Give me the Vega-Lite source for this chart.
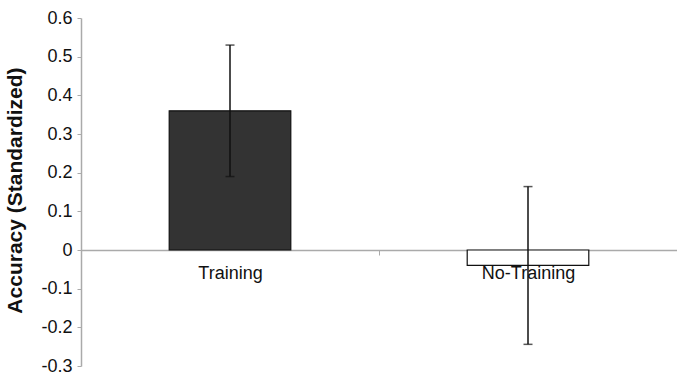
{
  "$schema": "https://vega.github.io/schema/vega-lite/v6.json",
  "autosize": {"type": "none"},
  "padding": {"left": 81, "top": 18, "right": 0, "bottom": 11},
  "width": 596,
  "height": 348,
  "background": "white",
  "config": {
    "view": {"stroke": null},
    "font": "Liberation Sans",
    "axis": {"grid": false, "labelOverlap": false, "labelFlush": false}
  },
  "data": {
    "values": [
      {"group": "Training", "mean": 0.36, "lo": 0.19, "hi": 0.53},
      {"group": "No-Training", "mean": -0.04, "lo": -0.244, "hi": 0.164}
    ]
  },
  "encoding": {
    "x": {
      "field": "group",
      "type": "nominal",
      "sort": null,
      "scale": {"paddingInner": 0, "paddingOuter": 0},
      "axis": {
        "title": null,
        "orient": "bottom",
        "offset": -116,
        "tickOffset": -149,
        "labelOffset": 149,
        "labelAngle": 0,
        "labelFont": "Liberation Sans",
        "labelFontSize": 18,
        "labelColor": "#111111",
        "labelPadding": 9,
        "tickSize": 5,
        "tickColor": "#aaaaaa",
        "domainColor": "#aaaaaa",
        "domainWidth": 1.5
      }
    }
  },
  "layer": [
    {
      "mark": {"type": "bar", "width": {"band": 0.408}, "stroke": "#111111", "strokeWidth": 1.2},
      "encoding": {
        "y": {
          "field": "mean",
          "type": "quantitative",
          "scale": {"domain": [-0.3, 0.6], "nice": false, "zero": false},
          "axis": {
            "title": "Accuracy (Standardized)",
            "values": [-0.3, -0.2, -0.1, 0, 0.1, 0.2, 0.3, 0.4, 0.5, 0.6],
            "tickCount": 20,
            "labelExpr": "'' + datum.value",
            "labelOverlap": false,
            "labelFont": "Liberation Sans",
            "labelFontSize": 18,
            "labelColor": "#111111",
            "labelPadding": 5,
            "tickSize": 4,
            "tickColor": "#aaaaaa",
            "domainColor": "#aaaaaa",
            "domainWidth": 1.5,
            "titleFont": "Liberation Sans",
            "titleFontSize": 21,
            "titleFontWeight": "bold",
            "titleColor": "#111111",
            "titleAngle": -90,
            "titleX": -66,
            "titleY": 172,
            "titleAlign": "center",
            "titleBaseline": "middle"
          }
        },
        "fill": {
          "field": "group",
          "type": "nominal",
          "scale": {"domain": ["Training", "No-Training"], "range": ["#333333", "#ffffff"]},
          "legend": null
        }
      }
    },
    {
      "mark": {"type": "rule", "color": "#111111", "strokeWidth": 1.5},
      "encoding": {
        "y": {"field": "lo", "type": "quantitative"},
        "y2": {"field": "hi"}
      }
    },
    {
      "mark": {"type": "tick", "color": "#111111", "size": 9, "thickness": 1.5, "orient": "horizontal"},
      "encoding": {
        "y": {"field": "lo", "type": "quantitative"}
      }
    },
    {
      "mark": {"type": "tick", "color": "#111111", "size": 9, "thickness": 1.5, "orient": "horizontal"},
      "encoding": {
        "y": {"field": "hi", "type": "quantitative"}
      }
    }
  ]
}
